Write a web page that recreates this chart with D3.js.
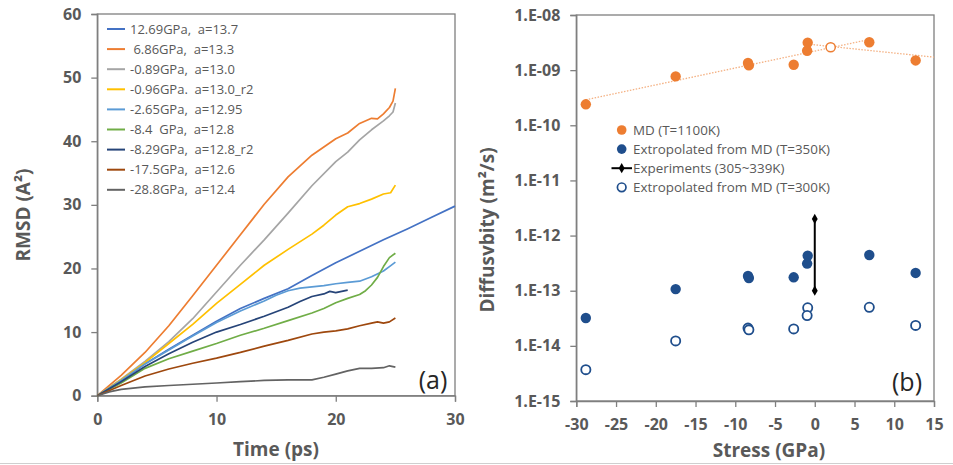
<!DOCTYPE html>
<html>
<head>
<meta charset="utf-8">
<script src="https://d3js.org/d3.v7.min.js"></script>
<style>
  body { margin: 0; background: #fff; }
  svg text { font-family: "Open Sans", sans-serif; }
</style>
</head>
<body>
<div id="chart"></div>
<script>
// ---- panel (a): RMSD vs time, [time ps, RMSD]
var s1269 = [[0,0],[2,2.4],[4,5],[6,7.3],[8,9.5],[10,11.7],[12,13.7],[14,15.3],[16,16.8],[18,18.9],[20,20.9],[22,22.7],[24,24.5],[26,26.2],[28,28],[30,29.8]];
var s686 = [[0,0],[2,3.2],[4,6.8],[6,11],[8,15.7],[10,20.5],[12,25.3],[14,30.1],[16,34.4],[18,37.8],[20,40.4],[21,41.3],[22,42.8],[23,43.6],[23.5,43.5],[24,44.3],[24.5,45.3],[24.8,46.3],[25,48.3]];
var s089 = [[0,0],[2,2.6],[4,5.4],[6,8.5],[8,12.1],[10,16.3],[12,20.5],[14,24.5],[16,28.7],[18,33],[20,36.8],[21,38.3],[22,40.2],[23,41.8],[24,43.2],[24.5,44],[24.8,44.6],[25,46]];
var s096 = [[0,0],[2,2.5],[4,5.2],[6,8.2],[8,11.2],[10,14.5],[12,17.5],[14,20.5],[16,23],[18,25.4],[19,26.8],[20,28.4],[21,29.7],[22,30.2],[23,30.9],[24,31.7],[24.6,31.9],[25,33.1]];
var s265 = [[0,0],[2,2.4],[4,5],[6,7.2],[8,9.4],[10,11.5],[12,13.3],[14,14.9],[15,15.8],[16,16.5],[17,16.9],[18,17.1],[19,17.3],[20,17.6],[21,17.8],[22,18],[23,18.7],[24,19.6],[24.5,20.3],[25,21]];
var s84 = [[0,0],[2,2],[4,4.3],[6,5.8],[8,7],[10,8.2],[12,9.5],[14,10.6],[16,11.8],[18,13],[19,13.7],[20,14.6],[21,15.3],[22,15.9],[22.5,16.5],[23,17.4],[23.5,18.6],[24,20.3],[24.5,21.7],[25,22.4]];
var s829 = [[0,0],[2,2.2],[4,4.6],[6,6.6],[8,8.4],[10,10],[12,11.2],[14,12.5],[16,13.9],[17,14.8],[18,15.6],[19,16],[19.5,16.4],[20,16.2],[20.5,16.4],[21,16.6]];
var s175 = [[0,0],[2,1.6],[4,3.1],[6,4.2],[8,5.1],[10,5.9],[12,6.8],[14,7.8],[16,8.7],[18,9.7],[19,10],[20,10.2],[21,10.5],[22,11],[23,11.4],[23.5,11.6],[24,11.4],[24.5,11.6],[25,12.2]];
var s288 = [[0,0],[1,0.6],[2,1],[4,1.4],[6,1.6],[8,1.8],[10,2],[12,2.2],[14,2.4],[16,2.5],[18,2.5],[19,2.9],[20,3.4],[21,3.9],[22,4.3],[23,4.3],[24,4.4],[24.5,4.7],[25,4.5]];

var rmsdLabels = ["12.69GPa,  a=13.7", " 6.86GPa,  a=13.3", "-0.89GPa,  a=13.0", "-0.96GPa.  a=13.0_r2",
                  "-2.65GPa,  a=12.95", "-8.4  GPa,  a=12.8", "-8.29GPa,  a=12.8_r2", "-17.5GPa,  a=12.6", "-28.8GPa,  a=12.4"];
var rmsdSeries = [s1269, s686, s089, s096, s265, s84, s829, s175, s288];
var rmsdColors = ["#4472C4", "#ED7D31", "#A5A5A5", "#FFC000", "#5B9BD5", "#70AD47", "#264478", "#9E480E", "#636363"];
var timeTicks = [0, 10, 20, 30];
var rmsdTicks = [0, 10, 20, 30, 40, 50, 60];

// ---- panel (b): diffusivity vs stress
var stress = [12.69, 6.86, -0.89, -0.96, -2.65, -8.4, -8.29, -17.5, -28.8];
var dMD1100 = [1.5e-9, 3.2e-9, 3.15e-9, 2.25e-9, 1.25e-9, 1.35e-9, 1.22e-9, 7.7e-10, 2.4e-10];
var dExt350 = [2.1e-13, 4.45e-13, 4.3e-13, 3.1e-13, 1.75e-13, 1.85e-13, 1.7e-13, 1.07e-13, 3.2e-14];
var dExt300 = [2.35e-14, 5.0e-14, 4.9e-14, 3.55e-14, 2.03e-14, 2.1e-14, 1.95e-14, 1.23e-14, 3.7e-15];
var expStress = [0, 0];
var expD = [1e-13, 2e-12];
var trendNeg = [[-28.8, 2.9e-10], [6.86, 3.6e-9]];
var trendPos = [[-0.9, 2.97e-9], [15, 1.72e-9]];
var crossPoint = [2.0, 2.6e-9];
var stressTicks = [-30, -25, -20, -15, -10, -5, 0, 5, 10, 15];
var dTicks = [1e-15, 1e-14, 1e-13, 1e-12, 1e-11, 1e-10, 1e-9, 1e-8];

var W = 953, H = 465;
var svg = d3.select("#chart").append("svg").attr("width", W).attr("height", H);
var axisColor = "#7f7f7f", textColor = "#595959";

// ===== panel (a) =====
var xA = d3.scaleLinear().domain([0, 30]).range([97.3, 455]);
var yA = d3.scaleLinear().domain([0, 60]).range([395.7, 14]);

svg.append("rect").attr("x", xA(0)).attr("y", yA(60))
   .attr("width", xA(30) - xA(0)).attr("height", yA(0) - yA(60))
   .attr("fill", "none").attr("stroke", axisColor).attr("stroke-width", 1.3);

var gxA = svg.append("g").attr("transform", "translate(0," + yA(0) + ")")
   .call(d3.axisBottom(xA).tickValues(timeTicks).tickSize(6).tickPadding(12));
var gyA = svg.append("g").attr("transform", "translate(" + xA(0) + ",0)")
   .call(d3.axisLeft(yA).tickValues(rmsdTicks).tickSize(6).tickPadding(10));

var lineA = d3.line().x(function(d) { return xA(d[0]); }).y(function(d) { return yA(d[1]); });
rmsdSeries.forEach(function(s, i) {
  svg.append("path").attr("d", lineA(s)).attr("fill", "none")
     .attr("stroke", rmsdColors[i]).attr("stroke-width", 1.7).attr("stroke-linejoin", "round");
});

// legend (a)
rmsdLabels.forEach(function(lbl, i) {
  var y = 29 + i * 20.1;
  svg.append("line").attr("x1", 107).attr("x2", 125).attr("y1", y).attr("y2", y)
     .attr("stroke", rmsdColors[i]).attr("stroke-width", 2);
  svg.append("text").attr("x", 130).attr("y", y).attr("dy", "0.35em")
     .attr("font-size", 13).attr("fill", textColor).attr("xml:space", "preserve").text(lbl);
});

svg.append("text").attr("x", 276).attr("y", 456).attr("text-anchor", "middle")
   .attr("font-size", 19).attr("font-weight", "bold").attr("fill", textColor).text("Time (ps)");
svg.append("text").attr("transform", "translate(30,215) rotate(-90)").attr("text-anchor", "middle")
   .attr("font-size", 19).attr("font-weight", "bold").attr("fill", textColor).text("RMSD (A²)");
svg.append("text").attr("x", 433).attr("y", 389).attr("text-anchor", "middle")
   .attr("font-size", 25).attr("fill", "#262626").text("(a)");

// ===== panel (b) =====
var xB = d3.scaleLinear().domain([-30, 15]).range([576.3, 934]);
var yB = d3.scaleLog().domain([1e-15, 1e-8]).range([401, 15]);

svg.append("rect").attr("x", xB(-30)).attr("y", yB(1e-8))
   .attr("width", xB(15) - xB(-30)).attr("height", yB(1e-15) - yB(1e-8))
   .attr("fill", "none").attr("stroke", axisColor).attr("stroke-width", 1.3);

var gxB = svg.append("g").attr("transform", "translate(0," + yB(1e-15) + ")")
   .call(d3.axisBottom(xB).tickValues(stressTicks).tickSize(6).tickPadding(12)
     .tickFormat(function(d) { return String(d); }));
var gyB = svg.append("g").attr("transform", "translate(" + xB(-30) + ",0)")
   .call(d3.axisLeft(yB).tickValues(dTicks).tickSize(6).tickPadding(10)
     .tickFormat(function(d) { var e = Math.round(Math.log10(d)); return "1.E-" + (e > -10 ? "0" : "") + (-e); }));

[gxA, gyA, gxB, gyB].forEach(function(g) {
  g.select(".domain").attr("stroke", axisColor).attr("stroke-width", 1.3);
  g.selectAll(".tick line").attr("stroke", axisColor).attr("stroke-width", 1.3);
  g.selectAll(".tick text").attr("fill", textColor).attr("font-size", 16)
   .attr("font-weight", "bold").attr("font-family", "Open Sans, sans-serif");
});

// trend lines (dotted)
var lineB = d3.line().x(function(d) { return xB(d[0]); }).y(function(d) { return yB(d[1]); });
[trendNeg, trendPos].forEach(function(t) {
  svg.append("path").attr("d", lineB(t)).attr("fill", "none")
     .attr("stroke", "#F4B183").attr("stroke-width", 1.3).attr("stroke-dasharray", "1.5,1.5");
});

var orange = "#ED7D31", navy = "#1F4E8C";
stress.forEach(function(s, i) {
  svg.append("circle").attr("cx", xB(s)).attr("cy", yB(dMD1100[i])).attr("r", 5.2).attr("fill", orange);
  svg.append("circle").attr("cx", xB(s)).attr("cy", yB(dExt350[i])).attr("r", 5.2).attr("fill", navy);
  svg.append("circle").attr("cx", xB(s)).attr("cy", yB(dExt300[i])).attr("r", 4.6)
     .attr("fill", "#fff").attr("stroke", navy).attr("stroke-width", 1.8);
});
svg.append("circle").attr("cx", xB(crossPoint[0])).attr("cy", yB(crossPoint[1])).attr("r", 4.6)
   .attr("fill", "#fff").attr("stroke", orange).attr("stroke-width", 1.5);

// experiments error bar
svg.append("line").attr("x1", xB(expStress[0])).attr("x2", xB(expStress[1]))
   .attr("y1", yB(expD[0])).attr("y2", yB(expD[1])).attr("stroke", "#000").attr("stroke-width", 2);
var diamond = d3.symbol().type(d3.symbolDiamond).size(30);
expD.forEach(function(d, i) {
  svg.append("path").attr("d", diamond()).attr("fill", "#000")
     .attr("transform", "translate(" + xB(expStress[i]) + "," + yB(d) + ")");
});

// legend (b)
var legB = [
  { t: "MD (T=1100K)", kind: "fill", c: orange },
  { t: "Extropolated from MD (T=350K)", kind: "fill", c: navy },
  { t: "Experiments (305~339K)", kind: "exp", c: "#000" },
  { t: "Extropolated from MD (T=300K)", kind: "open", c: navy }
];
legB.forEach(function(e, i) {
  var y = 130 + i * 19.1, mx = 621.7;
  if (e.kind === "fill") {
    svg.append("circle").attr("cx", mx).attr("cy", y).attr("r", 4.8).attr("fill", e.c);
  } else if (e.kind === "open") {
    svg.append("circle").attr("cx", mx).attr("cy", y).attr("r", 4.3).attr("fill", "#fff")
       .attr("stroke", e.c).attr("stroke-width", 1.7);
  } else {
    svg.append("line").attr("x1", 611.5).attr("x2", 632).attr("y1", y).attr("y2", y)
       .attr("stroke", "#000").attr("stroke-width", 2);
    svg.append("path").attr("d", diamond()).attr("fill", "#000").attr("transform", "translate(" + mx + "," + y + ")");
  }
  svg.append("text").attr("x", 633).attr("y", y).attr("dy", "0.35em")
     .attr("font-size", 13.4).attr("fill", textColor).text(e.t);
});

svg.append("text").attr("x", 769).attr("y", 457).attr("text-anchor", "middle")
   .attr("font-size", 19).attr("font-weight", "bold").attr("fill", textColor).text("Stress (GPa)");
svg.append("text").attr("transform", "translate(494,230) rotate(-90)").attr("text-anchor", "middle")
   .attr("font-size", 19).attr("font-weight", "bold").attr("fill", textColor).text("Diffusvbity (m²/s)");
svg.append("text").attr("x", 907).attr("y", 391).attr("text-anchor", "middle")
   .attr("font-size", 25).attr("fill", "#262626").text("(b)");

// bottom separator
svg.append("line").attr("x1", 0).attr("x2", W).attr("y1", 463.5).attr("y2", 463.5)
   .attr("stroke", "#cfcfcf").attr("stroke-width", 1);
</script>
</body>
</html>
